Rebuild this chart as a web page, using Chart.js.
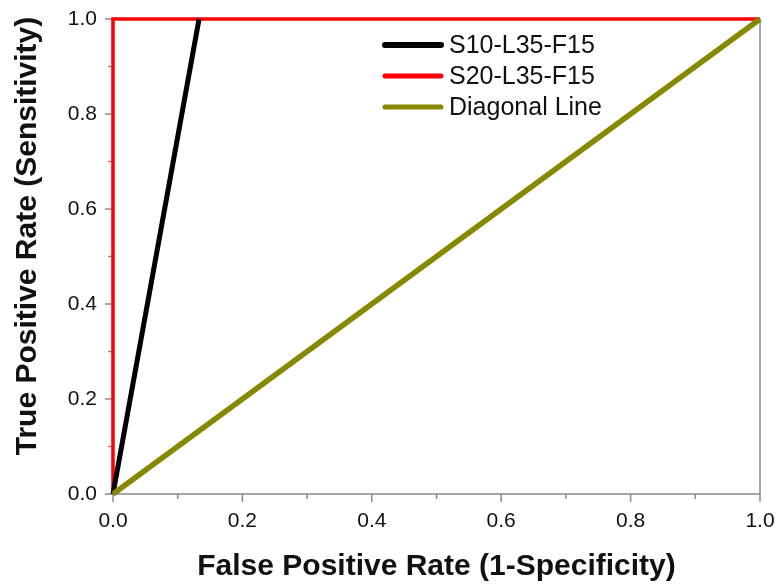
<!DOCTYPE html>
<html>
<head>
<meta charset="utf-8">
<script src="https://cdn.jsdelivr.net/npm/chart.js@4/dist/chart.umd.min.js"></script>
<style>
  html, body { margin: 0; padding: 0; background: #fff; }
  #wrap { width: 779px; height: 585px; }
</style>
</head>
<body>
<div id="wrap"><canvas id="c" width="779" height="585"></canvas></div>
<script>
// ROC curves: false positive rate (x) vs true positive rate (y)
const seriesNames = ["S10-L35-F15", "S20-L35-F15", "Diagonal Line"];
const s10Fpr = [0, 0.133];
const s10Tpr = [0, 1];
const s20Fpr = [0, 0, 1];
const s20Tpr = [0, 1, 1];
const diagFpr = [0, 1];
const diagTpr = [0, 1];
const tickValues = [0, 0.2, 0.4, 0.6, 0.8, 1.0];

const AXIS_GREY = "#8a8a8a";
const TEXT = "#111";

function pts(xs, ys){
    return xs.map((x, i) => ({x: x, y: ys[i]}));
}

// frame on all four sides plus outward major/minor tick marks
const framePlugin = {
    id: "frame",
    beforeDatasetsDraw(chart){
        let ctx = chart.ctx;
        let a = chart.chartArea;
        let xs = chart.scales.x, ys = chart.scales.y;
        ctx.save();
        ctx.strokeStyle = AXIS_GREY;
        ctx.lineWidth = 1.5;
        ctx.strokeRect(a.left, a.top, a.right - a.left, a.bottom - a.top);
        for(let i = 0; i <= 10; i++){
            let v = i / 10;
            let len = (i % 2 === 0) ? 8 : 5;
            let px = xs.getPixelForValue(v);
            let py = ys.getPixelForValue(v);
            ctx.beginPath();
            ctx.moveTo(px, a.bottom);
            ctx.lineTo(px, a.bottom + len);
            ctx.moveTo(a.left, py);
            ctx.lineTo(a.left - len, py);
            ctx.stroke();
        }
        ctx.restore();
    },
    afterDraw(chart){
        let ctx = chart.ctx;
        let a = chart.chartArea;
        ctx.save();
        ctx.fillStyle = TEXT;
        ctx.font = "bold 30px Arial, 'Liberation Sans', sans-serif";
        ctx.textAlign = "center";
        ctx.textBaseline = "alphabetic";
        ctx.fillText("False Positive Rate (1-Specificity)", (a.left + a.right) / 2, a.bottom + 81);
        ctx.translate(a.left - 77, a.top + 217);
        ctx.rotate(-Math.PI / 2);
        ctx.fillText("True Positive Rate (Sensitivity)", 0, 0);
        ctx.restore();
    }
};

// legend sitting inside the plot
const insideLegend = {
    id: "insideLegend",
    afterDraw(chart){
        let ctx = chart.ctx;
        let a = chart.chartArea;
        let x0 = a.left + 270, y0 = a.top + 26;
        ctx.save();
        ctx.font = "25px Arial, 'Liberation Sans', sans-serif";
        ctx.textBaseline = "middle";
        ctx.textAlign = "left";
        chart.data.datasets.forEach((ds, i) => {
            let y = y0 + i * 31;
            ctx.strokeStyle = ds.borderColor;
            ctx.lineWidth = ds.legendWidth;
            ctx.lineCap = "round";
            ctx.beginPath();
            ctx.moveTo(x0 + 2, y);
            ctx.lineTo(x0 + 58, y);
            ctx.stroke();
            ctx.fillStyle = TEXT;
            ctx.fillText(ds.label, x0 + 66, y + 1);
        });
        ctx.restore();
    }
};

new Chart(document.getElementById("c"), {
    type: "line",
    data: {
        datasets: [{
            label: seriesNames[0],
            data: pts(s10Fpr, s10Tpr),
            borderColor: "#000000",
            borderWidth: 5,
            legendWidth: 6,
            order: 1
        }, {
            label: seriesNames[1],
            data: pts(s20Fpr, s20Tpr),
            borderColor: "#ff0000",
            borderWidth: 3.5,
            legendWidth: 5,
            order: 2
        }, {
            label: seriesNames[2],
            data: pts(diagFpr, diagTpr),
            borderColor: "#878700",
            borderWidth: 5.5,
            legendWidth: 5,
            order: 0
        }]
    },
    options: {
        responsive: false,
        animation: false,
        events: [],
        layout: { padding: { top: 19, right: 19, left: 0, bottom: 0 } },
        elements: {
            point: { radius: 0 },
            line: { tension: 0, fill: false, borderJoinStyle: "miter" }
        },
        datasets: { line: { clip: false } },
        plugins: { legend: { display: false }, tooltip: { enabled: false } },
        scales: {
            x: {
                type: "linear",
                min: 0, max: 1,
                afterFit: s => { s.height = 91; s.paddingLeft = 0; s.paddingRight = 0; },
                afterBuildTicks: s => { s.ticks = tickValues.map(v => ({value: v})); },
                ticks: {
                    padding: 15,
                    color: TEXT,
                    font: { size: 21, family: "Arial, 'Liberation Sans', sans-serif" },
                    maxRotation: 0,
                    autoSkip: false,
                    callback: v => v.toFixed(1)
                },
                grid: { display: false, drawTicks: false, tickLength: 0 },
                border: { display: false }
            },
            y: {
                type: "linear",
                min: 0, max: 1,
                afterFit: s => { s.width = 113; s.paddingTop = 0; s.paddingBottom = 0; },
                afterBuildTicks: s => { s.ticks = tickValues.map(v => ({value: v})); },
                ticks: {
                    padding: 16,
                    color: TEXT,
                    font: { size: 21, family: "Arial, 'Liberation Sans', sans-serif" },
                    autoSkip: false,
                    callback: v => v.toFixed(1)
                },
                grid: { display: false, drawTicks: false, tickLength: 0 },
                border: { display: false }
            }
        }
    },
    plugins: [framePlugin, insideLegend]
});
</script>
</body>
</html>
